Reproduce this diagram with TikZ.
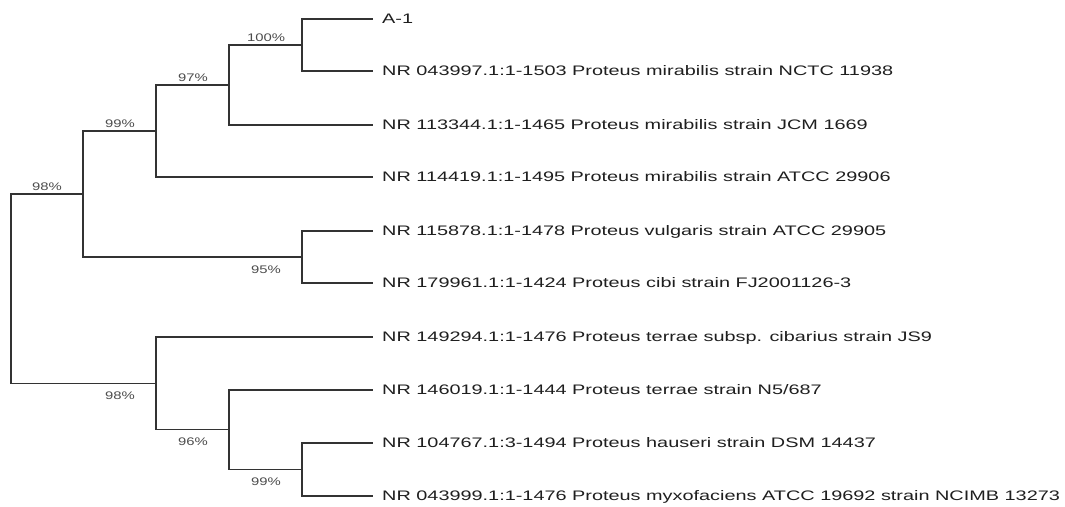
\documentclass[tikz,border=0pt]{standalone}
\usepackage{fontspec}
\setmainfont{Liberation Sans}
\newfontfamily\treefont[FakeStretch=1.44]{Liberation Sans}
\newfontfamily\bootfont[FakeStretch=1.35]{Liberation Sans}

\begin{document}
\begin{tikzpicture}[x=1pt, y=-1pt,
    branch/.style={draw=black!80, line width=1.1pt},
    leaf/.style={anchor=west, inner xsep=9pt, inner ysep=0pt,
      text height=9.9pt, text depth=0pt, text=black!88,
      font=\treefont\fontsize{13.8}{16}\selectfont},
    boot/.style={inner sep=0pt, text height=7.9pt, text depth=0pt,
      text=black!70, font=\bootfont\fontsize{11}{13}\selectfont}]

  \fill[white] (0,0) rectangle (1065,506);
  \useasboundingbox (0,0) rectangle (1065,506);

  % ============================================================
  % Internal nodes (x = depth, y = midpoint of the two children)
  % ============================================================
  \coordinate (root) at (11,288.7);
  \coordinate (nA)   at (83,194);      % 98% (upper clade)
  \coordinate (nB)   at (156,131);     % 99%
  \coordinate (nC)   at (229,85);      % 97%
  \coordinate (nD)   at (302,45);      % 100%
  \coordinate (nV)   at (302,257);     % 95%  vulgaris / cibi
  \coordinate (nE)   at (156,383.4);   % 98% (lower clade)
  \coordinate (nF)   at (229,429.8);   % 96%
  \coordinate (nG)   at (302,469.5);   % 99%

  % ============================================================
  % Leaves — all tips aligned at x = 373
  % ============================================================
  \foreach \n/\y/\txt in {
      1/19/{A-1},
      2/71/{NR 043997.1:1-1503 Proteus mirabilis strain NCTC 11938},
      3/125/{NR 113344.1:1-1465 Proteus mirabilis strain JCM 1669},
      4/177/{NR 114419.1:1-1495 Proteus mirabilis strain ATCC 29906},
      5/231/{NR 115878.1:1-1478 Proteus vulgaris strain ATCC 29905},
      6/283/{NR 179961.1:1-1424 Proteus cibi strain FJ2001126-3},
      7/337/{NR 149294.1:1-1476 Proteus terrae subsp. cibarius strain JS9},
      8/390/{NR 146019.1:1-1444 Proteus terrae strain N5/687},
      9/443/{NR 104767.1:3-1494 Proteus hauseri strain DSM 14437},
      10/496/{NR 043999.1:1-1476 Proteus myxofaciens ATCC 19692 strain NCIMB 13273}
  }{
    \node[leaf] (l\n) at (373,\y) {\txt};
  }

  % ============================================================
  % Branches (elbow style)
  % ============================================================
  \draw[branch] (root) |- (nA);
  \draw[branch] (root) |- (nE);

  \draw[branch] (nA) |- (nB);
  \draw[branch] (nA) |- (nV);
  \draw[branch] (nB) |- (nC);
  \draw[branch] (nB) |- (l4.west);
  \draw[branch] (nC) |- (nD);
  \draw[branch] (nC) |- (l3.west);
  \draw[branch] (nD) |- (l1.west);
  \draw[branch] (nD) |- (l2.west);
  \draw[branch] (nV) |- (l5.west);
  \draw[branch] (nV) |- (l6.west);

  \draw[branch] (nE) |- (l7.west);
  \draw[branch] (nE) |- (nF);
  \draw[branch] (nF) |- (l8.west);
  \draw[branch] (nF) |- (nG);
  \draw[branch] (nG) |- (l9.west);
  \draw[branch] (nG) |- (l10.west);

  % ============================================================
  % Bootstrap values (upper branch: above, lower branch: below)
  % ============================================================
  \node[boot, above=3pt] (bA) at ([xshift=-36pt]nA) {98\%};
  \node[boot, above=3pt] (bB) at ([xshift=-36pt]nB) {99\%};
  \node[boot, above=3pt] (bC) at ([xshift=-36pt]nC) {97\%};
  \node[boot, above=3pt] (bD) at ([xshift=-36pt]nD) {100\%};

  \node[boot, below=8pt] (bV) at ([xshift=-36pt]nV) {95\%};
  \node[boot, below=8pt] (bE) at ([xshift=-36pt]nE) {98\%};
  \node[boot, below=8pt] (bF) at ([xshift=-36pt]nF) {96\%};
  \node[boot, below=8pt] (bG) at ([xshift=-36pt]nG) {99\%};

\end{tikzpicture}
\end{document}
